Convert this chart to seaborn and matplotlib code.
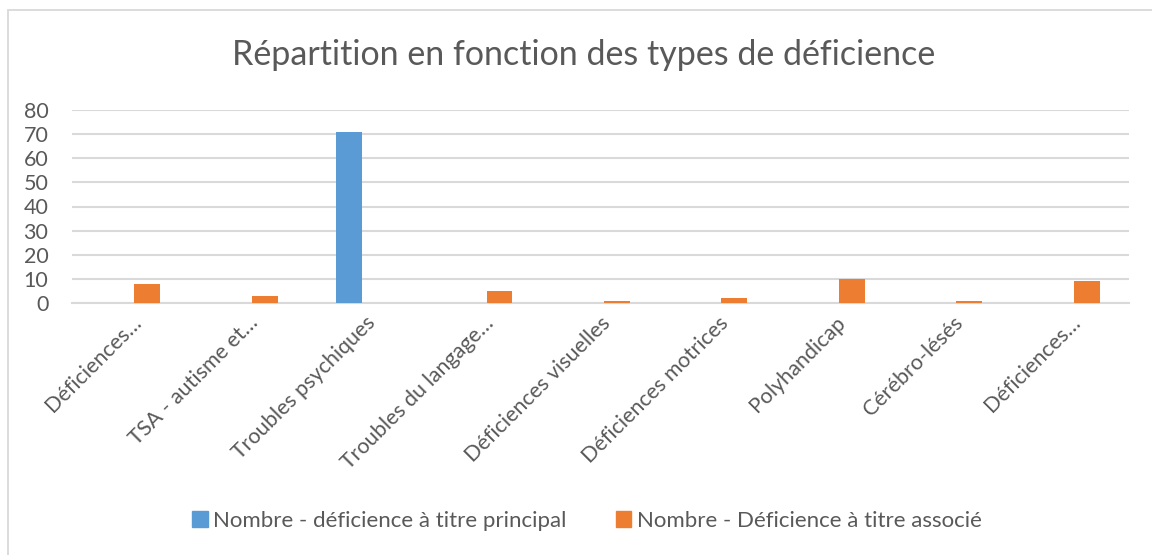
import matplotlib
matplotlib.use("Agg")
import matplotlib.pyplot as plt
import matplotlib.patches as mpatches
import seaborn as sns
import pandas as pd

# data
tick_labels = [
    "Déficiences…",
    "TSA - autisme et…",
    "Troubles psychiques",
    "Troubles du langage…",
    "Déficiences visuelles",
    "Déficiences motrices",
    "Polyhandicap",
    "Cérébro-lésés",
    "Déficiences…",
]
principal = [0, 0, 71, 0, 0, 0, 0, 0, 0]
associe = [8, 3, 0, 5, 1, 2, 10, 1, 9]
series_names = ["Nombre - déficience à titre principal",
                "Nombre - Déficience à titre associé"]
colors = ["#5B9BD5", "#ED7D31"]
title = "Répartition en fonction des types de déficience"

# two labels share the same text, so use positions as category keys
rows = []
for i in range(len(tick_labels)):
    rows.append({"pos": i, "serie": series_names[0], "valeur": principal[i]})
    rows.append({"pos": i, "serie": series_names[1], "valeur": associe[i]})
df = pd.DataFrame(rows)

sns.set_style("white")
plt.rcParams["font.family"] = ["Lato", "DejaVu Sans"]
text_color = "#595959"
grid_color = "#D9D9D9"

fig = plt.figure(figsize=(11.52, 5.55), dpi=100)
ax = fig.add_axes([72 / 1152, 1 - 303 / 555, (1129 - 72) / 1152, (303 - 110) / 555])

sns.barplot(data=df, x="pos", y="valeur", hue="serie", order=list(range(len(tick_labels))),
            hue_order=series_names, palette=colors, width=0.56, gap=0.21,
            ax=ax, legend=False, saturation=1, linewidth=0, zorder=3)

ax.set_ylim(0, 80)
ax.set_xlim(-0.5, len(tick_labels) - 0.5)
ax.set_yticks(range(0, 81, 10))
ax.yaxis.grid(True, color=grid_color, linewidth=1.5, zorder=0)
ax.set_axisbelow(True)
for s in ["top", "right", "left"]:
    ax.spines[s].set_visible(False)
ax.spines["bottom"].set_color(grid_color)
ax.spines["bottom"].set_linewidth(1.5)
ax.spines["bottom"].set_zorder(1)

ax.set_xticks(range(len(tick_labels)))
ax.set_xticklabels(tick_labels, rotation=45, ha="right", rotation_mode="anchor")
ax.tick_params(axis="x", length=0, pad=7, labelsize=15.5, labelcolor=text_color)
ax.tick_params(axis="y", length=0, pad=17, labelsize=15.5, labelcolor=text_color)
ax.set_xlabel("")
ax.set_ylabel("")

fig.text(584 / 1152, 1 - 55 / 555, title, ha="center", va="center", fontsize=24.5,
         color=text_color)

handles = [mpatches.Patch(color=c, label=n) for c, n in zip(colors, series_names)]
fig.legend(handles=handles, loc="center", bbox_to_anchor=(587 / 1152, 1 - 521 / 555), ncol=2,
           frameon=False, fontsize=16, labelcolor=text_color, handlelength=0.7,
           handleheight=0.7, handletextpad=0.25, columnspacing=2.2)

# chart area border (only left and top edges show in the reference)
fig.patches.append(mpatches.Rectangle((8 / 1152, -0.1), 1.2, 1 - 10 / 555 + 0.1,
                                      transform=fig.transFigure, fill=False,
                                      edgecolor=grid_color, linewidth=1.3))

fig.savefig("out.png", dpi=100)
